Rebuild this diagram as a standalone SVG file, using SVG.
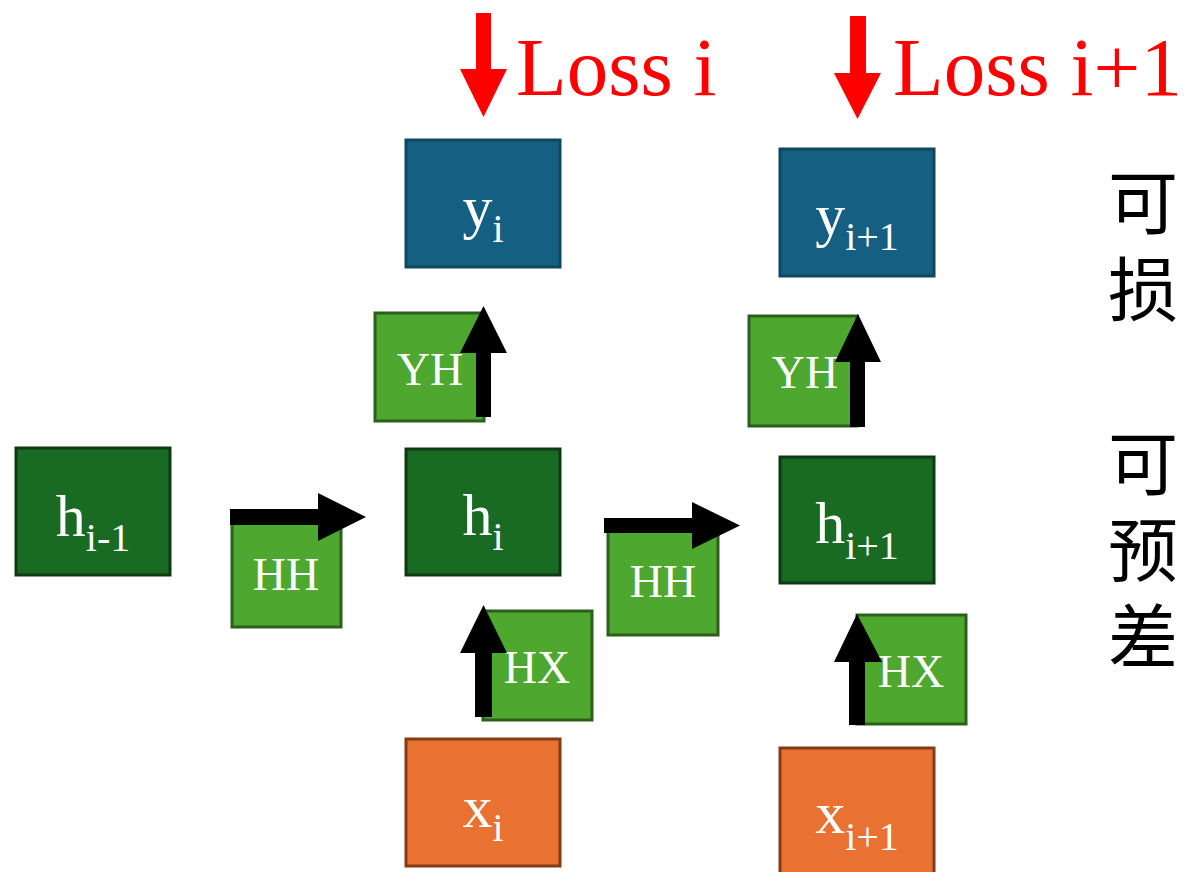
<svg xmlns="http://www.w3.org/2000/svg" width="1184" height="872" viewBox="0 0 1184 872">
<style>
.box{stroke-width:3}
.blue{fill:#156082;stroke:#0f4761}
.dg{fill:#196b24;stroke:#0d3a12}
.lg{fill:#4ea72e;stroke:#2d5f1c}
.or{fill:#e97132;stroke:#843c14}
.lbl{font-family:"Liberation Serif","Times New Roman",serif;fill:#ffffff;text-anchor:middle}
.big{font-size:60px}
.sm{font-size:46px}
.sub{font-size:40px}
.loss{font-family:"Liberation Serif","Times New Roman",serif;font-size:83px;fill:#ff0000}
.cjk{font-family:"Liberation Serif","Noto Sans CJK SC",sans-serif;font-size:70px;fill:#000000;text-anchor:middle}
.blk{fill:#000000}
.red{fill:#ff0000}
</style>
<rect width="1184" height="872" fill="#ffffff"/>
<g id="node-yi"><rect class="box blue" x="406" y="140" width="154" height="127"/><text class="lbl big" x="483" y="227">y<tspan class="sub" dy="15">i</tspan></text></g>
<g id="node-yi1"><rect class="box blue" x="780" y="149" width="154" height="127"/><text class="lbl big" x="857" y="235">y<tspan class="sub" dy="15">i+1</tspan></text></g>
<g id="node-hprev"><rect class="box dg" x="16" y="448" width="154" height="127"/><text class="lbl big" x="93" y="536">h<tspan class="sub" dy="15">i-1</tspan></text></g>
<g id="node-hi"><rect class="box dg" x="406" y="449" width="154" height="126"/><text class="lbl big" x="483" y="535">h<tspan class="sub" dy="15">i</tspan></text></g>
<g id="node-hi1"><rect class="box dg" x="780" y="457" width="154" height="126"/><text class="lbl big" x="857" y="543">h<tspan class="sub" dy="16">i+1</tspan></text></g>
<g id="node-xi"><rect class="box or" x="406" y="739" width="154" height="127"/><text class="lbl big" x="483" y="827">x<tspan class="sub" dy="14">i</tspan></text></g>
<g id="node-xi1"><rect class="box or" x="780" y="748" width="154" height="127"/><text class="lbl big" x="857" y="833">x<tspan class="sub" dy="17">i+1</tspan></text></g>
<g id="node-yh1"><rect class="box lg" x="375" y="313" width="109" height="108"/><text class="lbl sm" x="430" y="385">YH</text></g>
<g id="node-yh2"><rect class="box lg" x="749" y="316" width="108" height="110"/><text class="lbl sm" x="805" y="388">YH</text></g>
<g id="node-hh1"><rect class="box lg" x="232" y="516" width="109" height="111"/><text class="lbl sm" x="286" y="590">HH</text></g>
<g id="node-hh2"><rect class="box lg" x="608" y="524" width="110" height="111"/><text class="lbl sm" x="663" y="597">HH</text></g>
<g id="node-hx1"><rect class="box lg" x="483" y="611" width="109" height="109"/><text class="lbl sm" x="537" y="683">HX</text></g>
<g id="node-hx2"><rect class="box lg" x="857" y="615" width="109" height="109"/><text class="lbl sm" x="911" y="687">HX</text></g>
<g id="loss-i"><text class="loss" x="516" y="95">Loss i</text></g>
<g id="loss-i1"><text class="loss" x="893" y="95">Loss i+1</text></g>
<g id="side-text">
<text class="cjk" x="1143" y="229">可</text>
<text class="cjk" x="1143" y="316">损</text>
<text class="cjk" x="1143" y="490">可</text>
<text class="cjk" x="1143" y="577">预</text>
<text class="cjk" x="1143" y="663">差</text>
</g>
<g id="connectors">
<polygon class="red" points="476,13 491,13 491,69 507,69 483.5,117 460,69 476,69"/>
<polygon class="red" points="850,16 866,16 866,73 881,73 857.5,119 834,73 850,73"/>
<polygon class="blk" points="476,417 491,417 491,353 507,353 483.5,306 460,353 476,353"/>
<polygon class="blk" points="850,427 865,427 865,362 881,362 858,314 835,362 850,362"/>
<polygon class="blk" points="230,509 318,509 318,493 366,517 318,541 318,525 230,525"/>
<polygon class="blk" points="604,518 692,518 692,502 740,525.5 692,549 692,533 604,533"/>
<polygon class="blk" points="475,717 492,717 492,653 507,653 483.5,605 460,653 475,653"/>
<polygon class="blk" points="849,725 865,725 865,662 882,662 857,614 834,662 849,662"/>
</g>
</svg>
